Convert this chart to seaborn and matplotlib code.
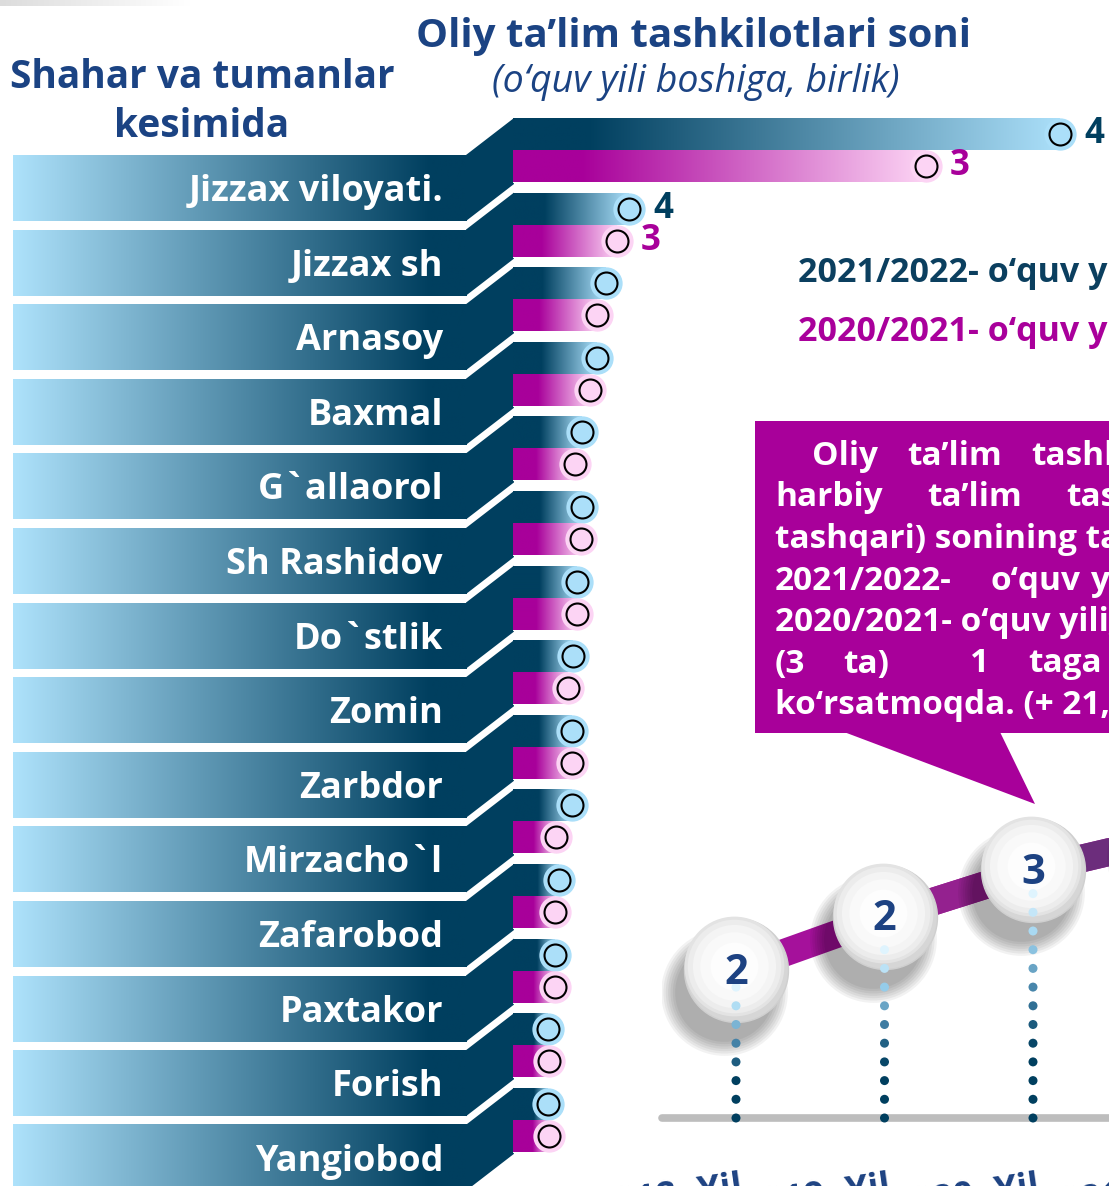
import numpy as np
import pandas as pd
import matplotlib
matplotlib.use("Agg")
import matplotlib.pyplot as plt
from matplotlib.colors import LinearSegmentedColormap
from matplotlib.patches import Polygon, Rectangle
import seaborn as sns

# ---- data ----
districts = ["Jizzax viloyati.", "Jizzax sh", "Arnasoy", "Baxmal", "G`allaorol",
             "Sh Rashidov", "Do`stlik", "Zomin", "Zarbdor", "Mirzacho`l",
             "Zafarobod", "Paxtakor", "Forish", "Yangiobod"]
years = ["2021/2022", "2020/2021"]
# drawn bar lengths (the infographic bars are not to scale)
bar_2122 = [547, 116, 93, 84, 69, 69, 64, 60, 59, 59, 46, 42, 35, 35]
bar_2021 = [413, 104, 84, 77, 62, 68, 64, 55, 59, 43, 42, 42, 36, 36]
# printed values (only the first two rows carry a number)
val_2122 = ["4", "4"] + [""] * 12
val_2021 = ["3", "3"] + [""] * 12

trend_labels = ["2018- Yil", "2019- Yil", "2020- Yil", "2021- Yil"]
trend_values = [2, 2, 3, 4]
trend_height = [148, 201, 248, 283]   # height of the spheres above the base line

callout_lines = [
    [(812, "Oliy"), (907, "ta’lim"), (1031, "tashkilotlari")],
    [(775, "harbiy"), (927, "ta’lim"), (1066, "tashkilotlaridan")],
    [(775, "tashqari) sonining tahlili")],
    [(775, "2021/2022-"), (990, "o‘quv"), (1090, "yilida")],
    [(775, "2020/2021- o‘quv yiliga")],
    [(775, "(3"), (843, "ta)"), (970, "1"), (1028, "taga")],
    [(775, "ko‘rsatmoqda. (+ 21,4 %)")],
]

# ---- colours ----
NAVY = "#003f5f"
LBLUE = "#abdff9"
MAG = "#a8009a"
LPINK = "#fcd4f4"
TITLE = "#1b4383"

W, H = 1109, 1186
sns.set_theme(style="white")
plt.rcParams['font.family'] = ['Open Sans', 'DejaVu Sans']

fig = plt.figure(figsize=(W / 100, H / 100), dpi=100, facecolor="white")


def hgrad(ax, x0, x1, y0, y1, stops, clip=None, z=2):
    cmap = LinearSegmentedColormap.from_list("g", stops)
    img = ax.imshow(np.linspace(0, 1, 256)[None, :], cmap=cmap,
                    extent=(x0, x1, y1, y0), aspect="auto",
                    interpolation="bilinear", zorder=z)
    if clip is not None:
        img.set_clip_path(clip)
    return img


# ---- full-figure layer in pixel coordinates ----
ax = fig.add_axes([0, 0, 1, 1])
ax.set_xlim(0, W)
ax.set_ylim(H, 0)
ax.axis("off")

hgrad(ax, 0, 190, 0, 6, [(0, "#dcdcdc"), (1, "#ffffff")], z=1)

PITCH = 74.6
ROW0 = 150
for i, name in enumerate(districts):
    T = ROW0 + PITCH * i + 5
    hgrad(ax, 13, 467, T, T + 66, [(0, "#aee2fb"), (0.92, NAVY), (1, NAVY)])
    ax.add_patch(Polygon([(466, T), (514, T - 37), (514, T + 29), (466, T + 66)],
                         closed=True, color=NAVY, lw=0, zorder=2))
    ax.text(443, T + 46, name, ha="right", va="baseline", color="white",
            fontsize=26, fontweight="bold", zorder=3)

ax.text(693, 47, "Oliy ta’lim tashkilotlari soni", ha="center", va="baseline",
        color=TITLE, fontsize=29, fontweight="bold")
ax.text(696, 92, "(o‘quv yili boshiga, birlik)", ha="center", va="baseline",
        color=TITLE, fontsize=27, style="italic")
ax.text(202, 88, "Shahar va tumanlar", ha="center", va="baseline",
        color=TITLE, fontsize=28, fontweight="bold")
ax.text(202, 137, "kesimida", ha="center", va="baseline",
        color=TITLE, fontsize=28, fontweight="bold")

ax.text(798, 282, "2021/2022- o‘quv yili", ha="left", va="baseline",
        color="#0b3f5f", fontsize=24.5, fontweight="bold")
ax.text(798, 341, "2020/2021- o‘quv yili", ha="left", va="baseline",
        color="#a9009b", fontsize=24.5, fontweight="bold")

# callout box
ax.add_patch(Rectangle((755, 421), 380, 312, color=MAG, lw=0, zorder=4))
ax.add_patch(Polygon([(844, 732), (1000, 732), (1035, 804)], closed=True,
                     color=MAG, lw=0, zorder=4))
for k, line in enumerate(callout_lines):
    for x, word in line:
        ax.text(x, 465 + 41.5 * k, word, ha="left", va="baseline", color="white",
                fontsize=24, fontweight="bold", zorder=5)

# ---- bar chart ----
y_top = ROW0 - PITCH / 2
bx = fig.add_axes([513 / W, (H - (y_top + PITCH * len(districts))) / H,
                   (W - 513) / W, PITCH * len(districts) / H])
bx.patch.set_alpha(0)
df = pd.DataFrame({
    "district": districts * 2,
    "year": [years[0]] * len(districts) + [years[1]] * len(districts),
    "length": bar_2122 + bar_2021,
    "label": val_2122 + val_2021,
})
sns.barplot(data=df, x="length", y="district", hue="year", orient="h",
            palette=[NAVY, MAG], saturation=1, width=0.858, legend=False,
            ax=bx)
for p in list(bx.patches):
    x0, y0, w, h = p.get_x(), p.get_y(), p.get_width(), p.get_height()
    fc = p.get_facecolor()
    blue = fc[2] > fc[0]
    if blue:
        f0 = min(0.6, (20 + 0.1 * w) / w)
        stops = [(0, NAVY), (f0, NAVY), (1, LBLUE)]
        halo = LBLUE
    else:
        f0 = min(0.6, (15 + 0.13 * w) / w)
        stops = [(0, MAG), (f0, MAG), (1, LPINK)]
        halo = LPINK
    hgrad(bx, x0, x0 + w, y0, y0 + h, stops, clip=p, z=3)
    cy = y0 + h / 2
    bx.scatter([x0 + w], [cy], s=540, color=halo, lw=0, zorder=4)
    bx.scatter([x0 + w], [cy], s=250, facecolor=halo, edgecolor="black",
               linewidth=1.5, zorder=5)

for i in range(len(districts)):
    for lab, L, off, col in [(val_2122[i], bar_2122[i], -0.2145, NAVY),
                             (val_2021[i], bar_2021[i], 0.2145, MAG)]:
        if lab:
            bx.text(L + 24, i + off, lab, ha="left", va="center", color=col,
                    fontsize=25, fontweight="bold", zorder=6)
bx.set_xlim(0, W - 513)
bx.set_ylim(len(districts) - 0.5, -0.5)
bx.axis("off")

# ---- trend line at the bottom ----
lx = fig.add_axes([661.75 / W, (H - 1118) / H, 594 / W, 418 / H])
lx.patch.set_alpha(0)
tx = np.arange(len(trend_values))
th = np.array(trend_height)
lx.axhline(0, color="#bdbdbd", lw=5.5, zorder=1, clip_on=False)
sns.lineplot(x=tx, y=th, ax=lx, color="#a5119b", linewidth=20, zorder=2)
lx.plot(tx[1:3], th[1:3], color="#94218f", lw=20, zorder=2)
lx.plot(tx[2:4], th[2:4], color="#6c2d7c", lw=20, zorder=2)

S = 5600
for k in range(7):
    lx.scatter(tx - 0.08, th - 22, s=S * (0.95 + 0.045 * k) ** 2,
               color="black", alpha=0.05, lw=0, zorder=3)
lx.scatter(tx, th, s=S, color="#d6d6d6", edgecolor="#cfcfcf", lw=1, zorder=4)
for r, c in [(0.96, "#e3e3e3"), (0.9, "#ececec"), (0.8, "#f4f4f4"),
             (0.66, "#f9f9f9"), (0.46, "#fdfdfd")]:
    lx.scatter(tx - 0.012, th + 4, s=S * r ** 2, color=c, lw=0, zorder=4)

dot_cmap = LinearSegmentedColormap.from_list(
    "dots", [(0, NAVY), (0.3, NAVY), (0.55, "#3b7aa0"), (0.8, "#9dd3ef"),
             (1, "#dff4fe")])
for i, hgt in enumerate(th):
    ys = np.arange(0, hgt - 14, 18.7)
    lx.scatter(np.full(len(ys), tx[i]), ys, s=42,
               c=dot_cmap(ys / max(ys.max(), 1)), lw=0, zorder=5,
               clip_on=False)
    lx.text(tx[i], hgt - 3, str(trend_values[i]), ha="center", va="center",
            color="#1d4282", fontsize=30, fontweight="bold", zorder=6)
    lx.text(tx[i] + 4 / 148.5, -52, trend_labels[i], ha="right", va="top",
            rotation=8, rotation_mode="anchor", color="#1d4282",
            fontsize=26, fontweight="bold")
lx.set_xlim(-0.5, 3.5)
lx.set_ylim(0, 418)
lx.axis("off")

fig.savefig("out.png", dpi=100, facecolor="white")
